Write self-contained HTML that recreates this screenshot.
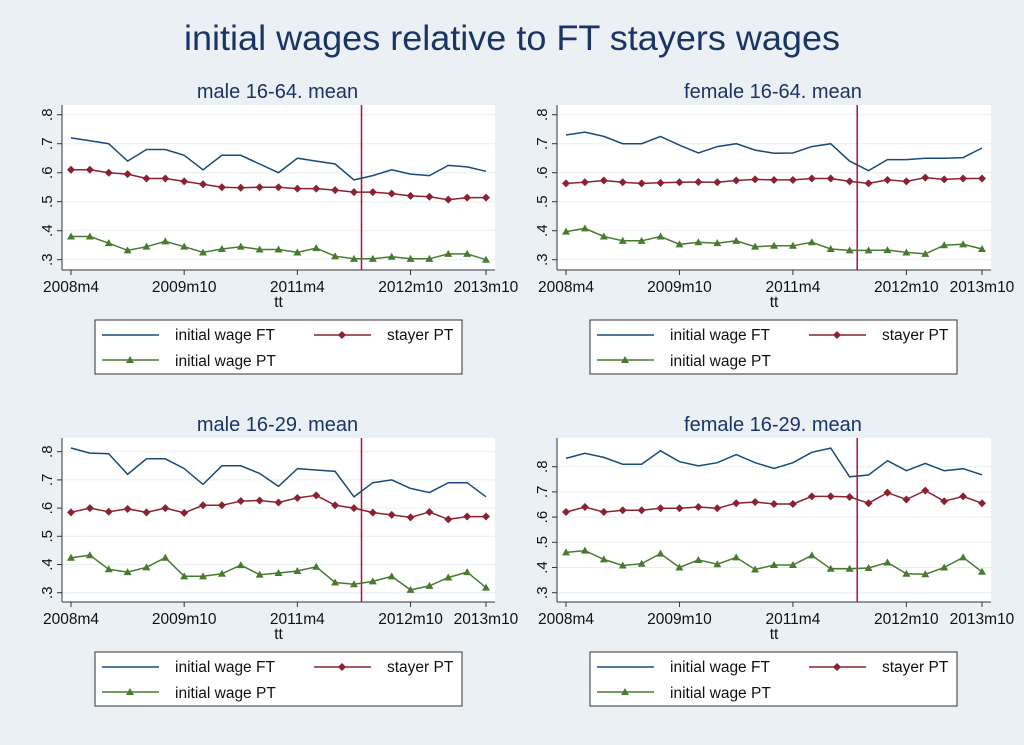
<!DOCTYPE html>
<html><head><meta charset="utf-8"><style>
body{margin:0;background:#eaf0f4;}
svg{display:block;font-family:"Liberation Sans",sans-serif;}
</style></head><body>
<svg id="c" width="1024" height="745">
<rect width="1024" height="745" fill="#eaf0f4"/>
<text x="512" y="50" text-anchor="middle" font-size="35" textLength="656" lengthAdjust="spacingAndGlyphs" fill="#1a3564">initial wages relative to FT stayers wages</text>
</svg>
<script>
const xLabels=["2008m4","2009m10","2011m4","2012m10","2013m10"];
const xTickIdx=[0,6,12,18,22];
const yTicks=[0.3,0.4,0.5,0.6,0.7,0.8];
const yTickLabels=[".3",".4",".5",".6",".7",".8"];
const breakIdx=15.4;
const titles=["male 16-64. mean","female 16-64. mean","male 16-29. mean","female 16-29. mean"];
const ft1=[.72,.71,.70,.64,.68,.68,.66,.61,.66,.66,.63,.60,.65,.64,.63,.575,.59,.61,.595,.59,.625,.62,.605];
const st1=[.61,.61,.60,.595,.58,.58,.57,.56,.55,.548,.55,.55,.545,.545,.54,.533,.533,.528,.52,.517,.507,.514,.514];
const pt1=[.38,.38,.357,.332,.345,.363,.345,.325,.337,.345,.335,.335,.325,.34,.312,.303,.303,.31,.303,.303,.32,.32,.30];
const ft2=[.73,.74,.725,.70,.70,.725,.695,.668,.69,.70,.678,.667,.668,.69,.70,.64,.607,.645,.645,.65,.65,.652,.685];
const st2=[.563,.567,.573,.567,.563,.565,.567,.568,.567,.573,.577,.575,.575,.58,.58,.57,.563,.575,.57,.583,.577,.58,.58];
const pt2=[.397,.408,.38,.365,.365,.38,.353,.36,.357,.365,.345,.348,.348,.36,.337,.332,.332,.333,.325,.32,.35,.353,.337];
const ft3=[.813,.795,.793,.72,.775,.775,.74,.684,.75,.75,.723,.677,.74,.735,.73,.64,.69,.70,.67,.655,.69,.69,.64];
const st3=[.585,.60,.587,.597,.585,.60,.583,.61,.61,.625,.627,.62,.636,.645,.61,.60,.584,.576,.567,.586,.56,.57,.57];
const pt3=[.424,.433,.383,.373,.39,.424,.358,.358,.367,.398,.364,.37,.377,.392,.336,.33,.34,.358,.31,.324,.354,.373,.318];
const ft4=[.833,.853,.837,.81,.81,.863,.82,.803,.816,.848,.816,.793,.816,.857,.874,.76,.767,.824,.784,.813,.784,.792,.768];
const st4=[.62,.64,.62,.627,.627,.635,.635,.64,.635,.655,.66,.652,.652,.682,.682,.68,.655,.697,.67,.705,.663,.682,.655];
const pt4=[.46,.467,.432,.408,.415,.455,.4,.43,.413,.44,.392,.41,.41,.448,.395,.395,.398,.42,.375,.373,.4,.44,.383];
const ftS=[ft1,ft2,ft3,ft4], stS=[st1,st2,st3,st4], ptS=[pt1,pt2,pt3,pt4];

const svg=document.getElementById('c');
const NS="http://www.w3.org/2000/svg";
function mk(tag,attrs,parent){const e=document.createElementNS(NS,tag);for(const k in attrs)e.setAttribute(k,attrs[k]);(parent||svg).appendChild(e);return e;}
const BLUE="#1a4a7a",RED="#8b2230",GREEN="#4a7a30";
const geo=[
 [62,495,105,270,71,486,259.7,114.7],
 [557,991,105,270,566,982,259.7,114.7],
 [62,495,438,602,71,486,592.7,451.7],
 [557,991,438,602,566,982,592.7,466.7]];
function diamond(g,x,y,c){return mk('polygon',{points:`${x},${y-4} ${x+4},${y} ${x},${y+4} ${x-4},${y}`,fill:c},g);}
function tri(g,x,y,c){return mk('polygon',{points:`${x},${y-4} ${x+4},${y+3} ${x-4},${y+3}`,fill:c},g);}
for(let p=0;p<4;p++){
  const [L,R,T,B,x0,x22,y3,y8]=geo[p];
  const xs=i=>x0+(x22-x0)*i/22;
  const ys=v=>y3+(v-0.3)*(y8-y3)/0.5;
  const g=mk('g',{});
  
  
  const cx=(L+R)/2+15;
  const tt=mk('text',{x:cx-16,y:T-7,'text-anchor':'middle','font-size':20,fill:'#1a3564'},g);tt.textContent=titles[p];
  
  
  mk('rect',{x:L,y:T,width:R-L,height:B-T,fill:'#fff'},g);
  yTicks.forEach((v,k)=>{
    const y=ys(v);
    mk('line',{x1:L,x2:R,y1:y,y2:y,stroke:'#e8eef2','stroke-width':1},g);
    mk('line',{x1:L-5,x2:L,y1:y,y2:y,stroke:'#333'},g);
    const t=mk('text',{x:0,y:0,'text-anchor':'middle','font-size':15,fill:'#111',transform:`translate(${L-10},${y}) rotate(-90)`},g);
    t.textContent=yTickLabels[k];
    
    
  });
  mk('line',{x1:L,x2:L,y1:T,y2:B,stroke:'#333'},g);
  mk('line',{x1:L,x2:R,y1:B,y2:B,stroke:'#333'},g);
  xTickIdx.forEach((ix,k)=>{
    const x=xs(ix);
    mk('line',{x1:x,x2:x,y1:B,y2:B+5,stroke:'#333'},g);
    const t=mk('text',{x:x,y:B+22,'text-anchor':'middle','font-size':15.5,fill:'#111'},g);
    t.textContent=xLabels[k];
    
    
  });
  const xt=mk('text',{x:xs(11),y:B+37,'text-anchor':'middle','font-size':15.5,fill:'#111'},g);xt.textContent='tt';
  
  
  const bx=xs(breakIdx);
  const bl=mk('line',{x1:bx,x2:bx,y1:T,y2:B,stroke:'#b0103a','stroke-width':1.5},g);
  
  
  const path=arr=>arr.map((v,i)=>(i?'L':'M')+xs(i).toFixed(1)+','+ys(v).toFixed(1)).join(' ');
  const l1=mk('path',{d:path(ftS[p]),fill:'none',stroke:BLUE,'stroke-width':1.5},g);
  
  
  const l2=mk('path',{d:path(stS[p]),fill:'none',stroke:RED,'stroke-width':1.5},g);
  
  
  stS[p].forEach((v,i)=>{const d=diamond(g,xs(i),ys(v),RED);
    
    });
  const l3=mk('path',{d:path(ptS[p]),fill:'none',stroke:GREEN,'stroke-width':1.5},g);
  
  
  ptS[p].forEach((v,i)=>{const d=tri(g,xs(i),ys(v),GREEN);
    
    });
  const lx=L+33, ly=B+50;
  const lg=mk('g',{},g);
  
  
  mk('rect',{x:lx,y:ly,width:367,height:54,fill:'#fff',stroke:'#333'},lg);
  mk('line',{x1:lx+7,x2:lx+64,y1:ly+15,y2:ly+15,stroke:BLUE,'stroke-width':1.5},lg);
  mk('line',{x1:lx+219,x2:lx+276,y1:ly+15,y2:ly+15,stroke:RED,'stroke-width':1.5},lg);
  diamond(lg,lx+247,ly+15,RED);
  mk('line',{x1:lx+7,x2:lx+64,y1:ly+40,y2:ly+40,stroke:GREEN,'stroke-width':1.5},lg);
  tri(lg,lx+35,ly+40,GREEN);
  const e1=mk('text',{x:lx+80,y:ly+20,'font-size':15.5,fill:'#111'},lg);e1.textContent='initial wage FT';
  
  
  const e2=mk('text',{x:lx+292,y:ly+20,'font-size':15.5,fill:'#111'},lg);e2.textContent='stayer PT';
  
  
  const e3=mk('text',{x:lx+80,y:ly+46,'font-size':15.5,fill:'#111'},lg);e3.textContent='initial wage PT';
  
  
}
</script>
</body></html>
